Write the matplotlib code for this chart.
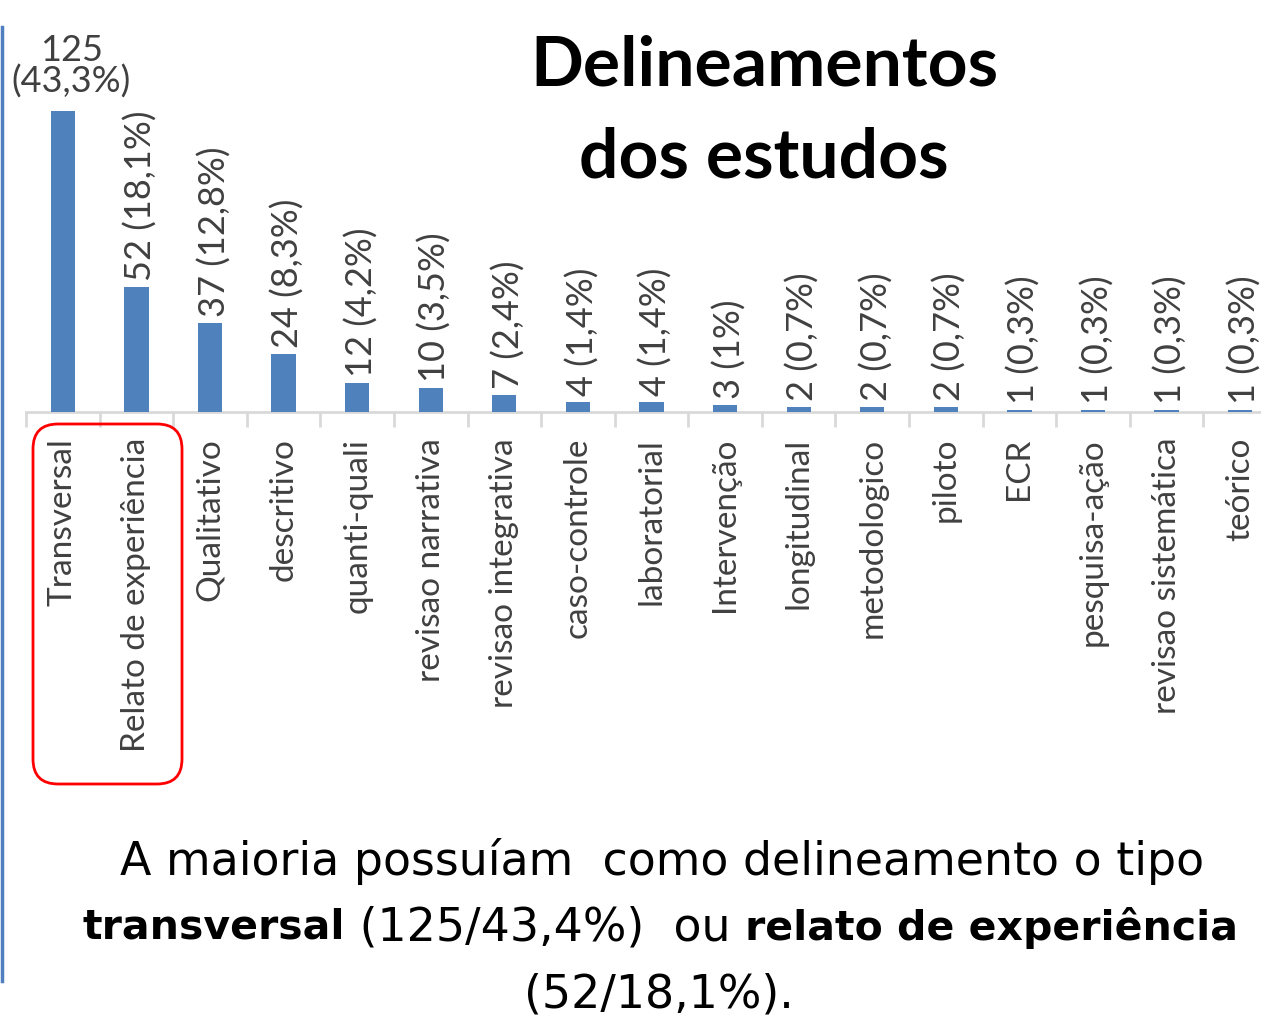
import matplotlib
matplotlib.use("Agg")
import matplotlib.pyplot as plt
from matplotlib.patches import FancyBboxPatch
from matplotlib.lines import Line2D

plt.rcParams['font.family'] = ['Lato', 'DejaVu Sans']

categories = ["Transversal", "Relato de experiência", "Qualitativo", "descritivo",
              "quanti-quali", "revisao narrativa", "revisao integrativa", "caso-controle",
              "laboratorial", "Intervenção", "longitudinal", "metodologico", "piloto",
              "ECR", "pesquisa-ação", "revisao sistemática", "teórico"]
counts = [125, 52, 37, 24, 12, 10, 7, 4, 4, 3, 2, 2, 2, 1, 1, 1, 1]
percents = ["43,3%", "18,1%", "12,8%", "8,3%", "4,2%", "3,5%", "2,4%", "1,4%", "1,4%",
            "1%", "0,7%", "0,7%", "0,7%", "0,3%", "0,3%", "0,3%", "0,3%"]

title = "Delineamentos\ndos estudos"
note_line1 = "A maioria possuíam  como delineamento o tipo"
note_line2 = [("transversal", "bold"), (" (125/43,4%)  ou ", "normal"),
              ("relato de experiência", "bold")]
note_line3 = "(52/18,1%)."

W, H = 1261, 1020
fig = plt.figure(figsize=(W / 100, H / 100), dpi=100)
fig.patch.set_facecolor("white")

ax = fig.add_axes([26 / W, 1 - 413 / H, 1251 / W, 337 / H])
x = list(range(len(categories)))
ax.bar(x, counts, width=0.33, color="#4f81bd", zorder=3)
ax.set_xlim(-0.5, len(categories) - 0.5)
ax.set_ylim(0, 140)

for s in ["top", "right", "left"]:
    ax.spines[s].set_visible(False)
ax.spines["bottom"].set_color("#d9d9d9")
ax.spines["bottom"].set_linewidth(2)
ax.set_yticks([])

ax.set_xticks(x)
ax.set_xticklabels(categories, rotation=90, fontsize=24, color="#404040")
ax.tick_params(axis="x", which="major", length=0, pad=18)
ax.set_xticks([i - 0.5 for i in range(len(categories) + 1)], minor=True)
ax.tick_params(axis="x", which="minor", length=11, width=2, color="#d9d9d9")

for i, (c, p) in enumerate(zip(counts, percents)):
    if i == 0:
        ax.annotate(f"{c}\n({p})", (i, c), xytext=(6, 10), textcoords="offset points",
                    ha="center", va="bottom", fontsize=26, color="#404040",
                    linespacing=0.9)
    else:
        ax.annotate(f"{c} ({p})", (i, c), xytext=(3, 5), textcoords="offset points",
                    ha="center", va="bottom", rotation=90, fontsize=26, color="#404040")

fig.text(764 / W, 1 - 112 / H, title, ha="center", va="center", fontsize=50,
         fontweight="bold", color="black", linespacing=1.58)

# highlight box around first two categories
box = FancyBboxPatch((0.33, (H - 785) / 100), 1.49, 3.60,
                     boxstyle="round,pad=0,rounding_size=0.25",
                     transform=fig.dpi_scale_trans, fill=False,
                     edgecolor="red", linewidth=2)
fig.add_artist(box)

# slide border on the left
fig.add_artist(Line2D([2 / W, 2 / W], [1 - 982 / H, 1 - 28 / H], color="#4f7fbf",
                      linewidth=2.5, transform=fig.transFigure))

note_font = "DejaVu Sans"
fs_note = 33
fs_bold = 29.5
fig.text(662 / W, 1 - 862 / H, note_line1, ha="center", va="center",
         fontsize=fs_note, color="black", family=note_font)
fig.text(659 / W, 1 - 995 / H, note_line3, ha="center", va="center",
         fontsize=fs_note, color="black", family=note_font)

renderer = fig.canvas.get_renderer()
pieces = []
total = 0
for txt, wt in note_line2:
    t = fig.text(0, 1 - 928 / H, txt, ha="left", va="center",
                 fontsize=fs_bold if wt == "bold" else fs_note,
                 fontweight=wt, color="black", family=note_font)
    w = t.get_window_extent(renderer).width
    pieces.append((t, w))
    total += w
xpos = 660 - total / 2
for t, w in pieces:
    t.set_x(xpos / W)
    xpos += w

fig.savefig("out.png", dpi=100)
